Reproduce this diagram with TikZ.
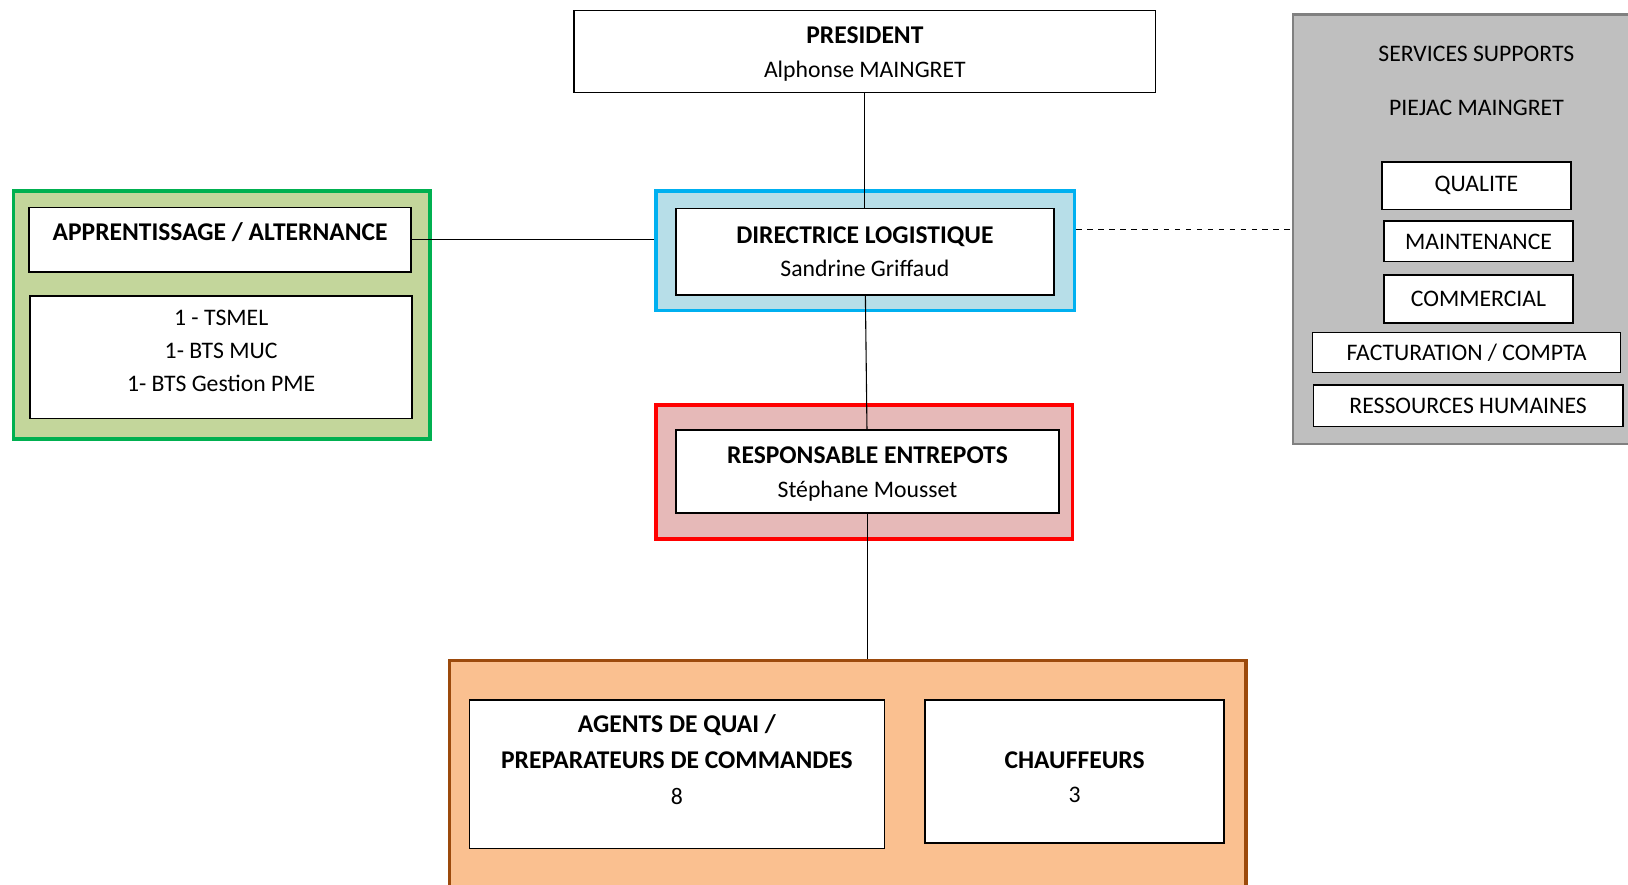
\documentclass[tikz,border=0pt]{standalone}
\usepackage{fontspec}
\setmainfont{Carlito}
\definecolor{bluefill}{HTML}{B7DEE8}
\definecolor{blueline}{HTML}{00B0F0}
\definecolor{redfill}{HTML}{E6B9B8}
\definecolor{greenfill}{HTML}{C3D69B}
\definecolor{greenline}{HTML}{00B050}
\definecolor{orangefill}{HTML}{FAC090}
\definecolor{orangeline}{HTML}{9C4A0C}
\definecolor{grayfill}{HTML}{BFBFBF}
\definecolor{grayline}{HTML}{808080}
\newcommand\hd[1]{{\fontsize{14}{18.2}\selectfont\bfseries #1}}
\begin{document}
\begin{tikzpicture}[x=0.02cm,y=-0.02cm,
    box/.style={draw=black,line width=0.8pt,fill=white,align=center,inner sep=0pt,
        font=\fontsize{13}{18.2}\selectfont},
    txt/.style={align=center,inner sep=0pt,font=\fontsize{13}{18.2}\selectfont},
    frame/.style={line width=2pt,inner sep=0pt},
    link/.style={line width=0.6pt}]

    \useasboundingbox (0,0) rectangle (1568,852);
    \clip (0,0) rectangle (1568,852);

    %coloured frames:
    \node[frame,draw=blueline,fill=bluefill,minimum width=8.06cm,minimum height=2.3cm] (dirout) at (833.5,241.5) {};
    \node[frame,draw=red,fill=redfill,minimum width=8.02cm,minimum height=2.58cm] (resout) at (832.5,454.5) {};
    \node[frame,draw=greenline,fill=greenfill,minimum width=8.02cm,minimum height=4.78cm] (app) at (213.5,303.5) {};
    \node[frame,draw=orangeline,fill=orangefill,minimum width=15.34cm,minimum height=4.96cm] (team) at (816.5,760) {};
    \node[draw=grayline,line width=1.2pt,fill=grayfill,inner sep=0pt,minimum width=8.1cm,minimum height=8.28cm] (support) at (1447.5,221) {};

    %boxes:
    \node[box,minimum width=11.2cm,minimum height=1.58cm] (pres) at (833,49.5) {};
    \node[txt] at ([yshift=-0.05cm]pres.center) {\hd{PRESIDENT}\\Alphonse MAINGRET};
    \node[box,minimum width=7.28cm,minimum height=1.66cm] (dir) at (833,242.5) {\hd{DIRECTRICE LOGISTIQUE}\\Sandrine Griffaud};
    \node[box,minimum width=7.38cm,minimum height=1.6cm] (res) at (835.5,454) {};
    \node[txt] at ([yshift=-0.05cm]res.center) {\hd{RESPONSABLE ENTREPOTS}\\Stéphane Mousset};

    \node[box,minimum width=7.36cm,minimum height=1.24cm] (alt) at (212,231) {};
    \node[txt] at ([yshift=0.14cm]alt.center) {\hd{APPRENTISSAGE / ALTERNANCE}};
    \node[box,minimum width=7.36cm,minimum height=2.36cm] (cursus) at (213,344) {};
    \node[txt] at ([yshift=0.12cm]cursus.center) {1 - TSMEL\\1- BTS MUC\\1- BTS Gestion PME};

    \node[box,minimum width=8cm,minimum height=2.86cm] (agents) at (652,745.5) {};
    \node[txt] at ([yshift=0.28cm]agents.center) {\hd{AGENTS DE QUAI /}\\[1.4pt]\hd{PREPARATEURS DE COMMANDES}\\[1.4pt]8};
    \node[box,minimum width=5.76cm,minimum height=2.76cm] (drivers) at (1035,743) {};
    \node[txt] at ([yshift=-0.11cm]drivers.center) {\hd{CHAUFFEURS}\\3};

    %support services:
    \node[txt] (supptitle) at (1422,52) {SERVICES SUPPORTS};
    \node[txt] (suppname) at (1422,104) {PIEJAC MAINGRET};
    \node[box,minimum width=3.64cm,minimum height=0.92cm] (qual) at (1422,179) {QUALITE};
    \node[box,minimum width=3.64cm,minimum height=0.78cm] (maint) at (1424,232.5) {MAINTENANCE};
    \node[box,minimum width=3.64cm,minimum height=0.92cm] (comm) at (1424,288) {COMMERCIAL};
    \node[box,minimum width=5.94cm,minimum height=0.78cm] (fact) at (1412.5,339.5) {FACTURATION / COMPTA};
    \node[box,minimum width=5.96cm,minimum height=0.8cm] (rh) at (1414,391) {RESSOURCES HUMAINES};

    %draw links:
    \draw[link] (pres) -- (dir);
    \draw[link] (dir) -- (res);
    \draw[link] (res.south) -- (res.south |- team.north);
    \draw[link] (alt.east) -- (alt.east -| dirout.west);
    \draw[link,dashed] (support.west -| dirout.east) -- (support.west);

\end{tikzpicture}
\end{document}
